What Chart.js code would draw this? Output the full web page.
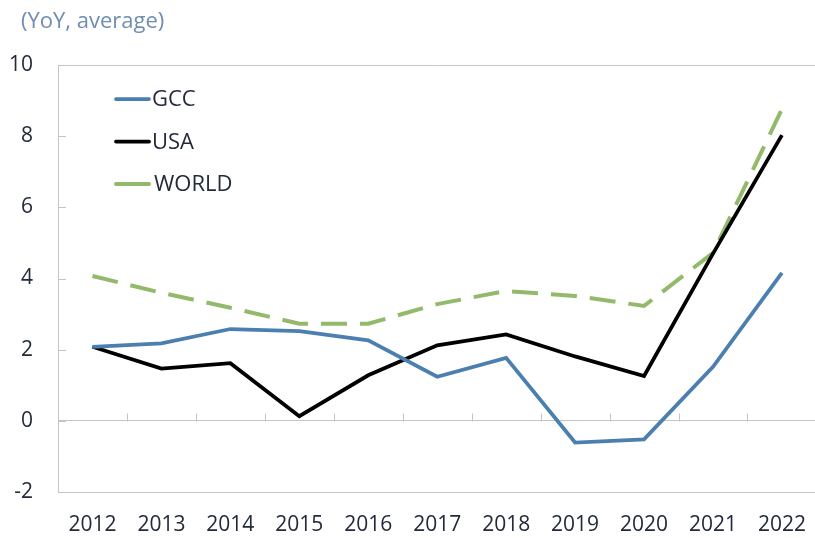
<!DOCTYPE html>
<html>
<head>
<meta charset="utf-8">
<script src="https://cdn.jsdelivr.net/npm/chart.js@4.4.0/dist/chart.umd.min.js"></script>
<style>
  html, body { margin: 0; padding: 0; background: #fff; overflow: hidden; }
  #wrap { position: relative; width: 826px; height: 538px; }
</style>
</head>
<body>
<div id="wrap"><canvas id="chart"></canvas></div>
<script>
// data
const years = ["2012", "2013", "2014", "2015", "2016", "2017", "2018", "2019", "2020", "2021", "2022"];
const gcc = [2.08, 2.18, 2.58, 2.52, 2.26, 1.24, 1.77, -0.61, -0.52, 1.52, 4.16];
const usa = [2.08, 1.47, 1.62, 0.13, 1.28, 2.12, 2.43, 1.81, 1.26, 4.7, 8.03];
const world = [4.07, 3.6, 3.18, 2.73, 2.73, 3.28, 3.65, 3.51, 3.23, 4.72, 8.76];
const yTicks = [-2, 0, 2, 4, 6, 8, 10];

const FONT = "'Open Sans', 'Noto Sans', sans-serif";
const TEXT = "#232a3a";
const AXIS = "#c4c4c4";

// title, legend and inside tick marks
const extras = {
  id: "extras",
  afterDatasetsDraw(chart) {
    const ctx = chart.ctx;
    const area = chart.chartArea;
    const x = chart.scales.x;
    const y = chart.scales.y;
    ctx.save();

    // tick marks on the y axis (inside)
    ctx.strokeStyle = AXIS;
    ctx.lineWidth = 1;
    yTicks.forEach((v) => {
      const py = Math.round(y.getPixelForValue(v)) + 0.5;
      ctx.beginPath();
      ctx.moveTo(area.left, py);
      ctx.lineTo(area.left + 8, py);
      ctx.stroke();
    });

    // tick marks on the zero line between categories
    const y0 = Math.round(y.getPixelForValue(0)) + 0.5;
    for (let i = 0; i < years.length - 1; i++) {
      const px = Math.round((x.getPixelForValue(i) + x.getPixelForValue(i + 1)) / 2) + 0.5;
      ctx.beginPath();
      ctx.moveTo(px, y0);
      ctx.lineTo(px, y0 - 8);
      ctx.stroke();
    }

    // title
    ctx.fillStyle = "#6f8db3";
    ctx.font = "22px " + FONT;
    ctx.textAlign = "left";
    ctx.textBaseline = "middle";
    ctx.fillText("(YoY, average)", 21, 22);

    // legend
    ctx.font = "22px " + FONT;
    chart.data.datasets.forEach((ds, i) => {
      const ly = 99 + i * 42.5;
      ctx.strokeStyle = ds.borderColor;
      ctx.lineWidth = ds.borderWidth;
      ctx.setLineDash([]);
      ctx.lineCap = "round";
      ctx.beginPath();
      ctx.moveTo(116, ly);
      ctx.lineTo(149, ly);
      ctx.stroke();
      ctx.fillStyle = TEXT;
      ctx.fillText(ds.label, i === 2 ? 154 : 152, ly + 1);
    });
    ctx.restore();
  },
};

new Chart(document.getElementById("chart"), {
  type: "line",
  data: {
    labels: years,
    datasets: [
      { label: "GCC", data: gcc, borderColor: "#4a7fb0", borderWidth: 3.75 },
      { label: "USA", data: usa, borderColor: "#000000", borderWidth: 3.75 },
      { label: "WORLD", data: world, borderColor: "#93b96a", borderWidth: 4, borderDash: [26, 13] },
    ],
  },
  options: {
    responsive: true,
    maintainAspectRatio: false,
    animation: false,
    layout: { padding: { top: 65, right: 1, left: 0, bottom: 0 } },
    elements: {
      point: { radius: 0 },
      line: { tension: 0, fill: false },
    },
    plugins: {
      legend: { display: false },
      tooltip: { enabled: false },
    },
    scales: {
      x: {
        offset: true,
        grid: { display: false, drawTicks: false },
        border: { display: false },
        ticks: {
          color: TEXT,
          font: { family: FONT, size: 21 },
          padding: 20,
          maxRotation: 0,
          autoSkip: false,
        },
        afterFit(scale) {
          scale.height = 46;
        },
      },
      y: {
        min: -2,
        max: 10,
        ticks: {
          stepSize: 2,
          color: TEXT,
          font: { family: FONT, size: 21 },
          padding: 25,
        },
        grid: {
          drawTicks: false,
          color: (c) => (c.tick && (c.tick.value === 0 || c.tick.value === 10 || c.tick.value === -2) ? AXIS : "rgba(0,0,0,0)"),
          lineWidth: 1,
        },
        border: { display: true, color: AXIS, width: 1 },
        afterFit(scale) {
          scale.width = 58;
        },
      },
    },
  },
  plugins: [extras],
});
</script>
</body>
</html>
